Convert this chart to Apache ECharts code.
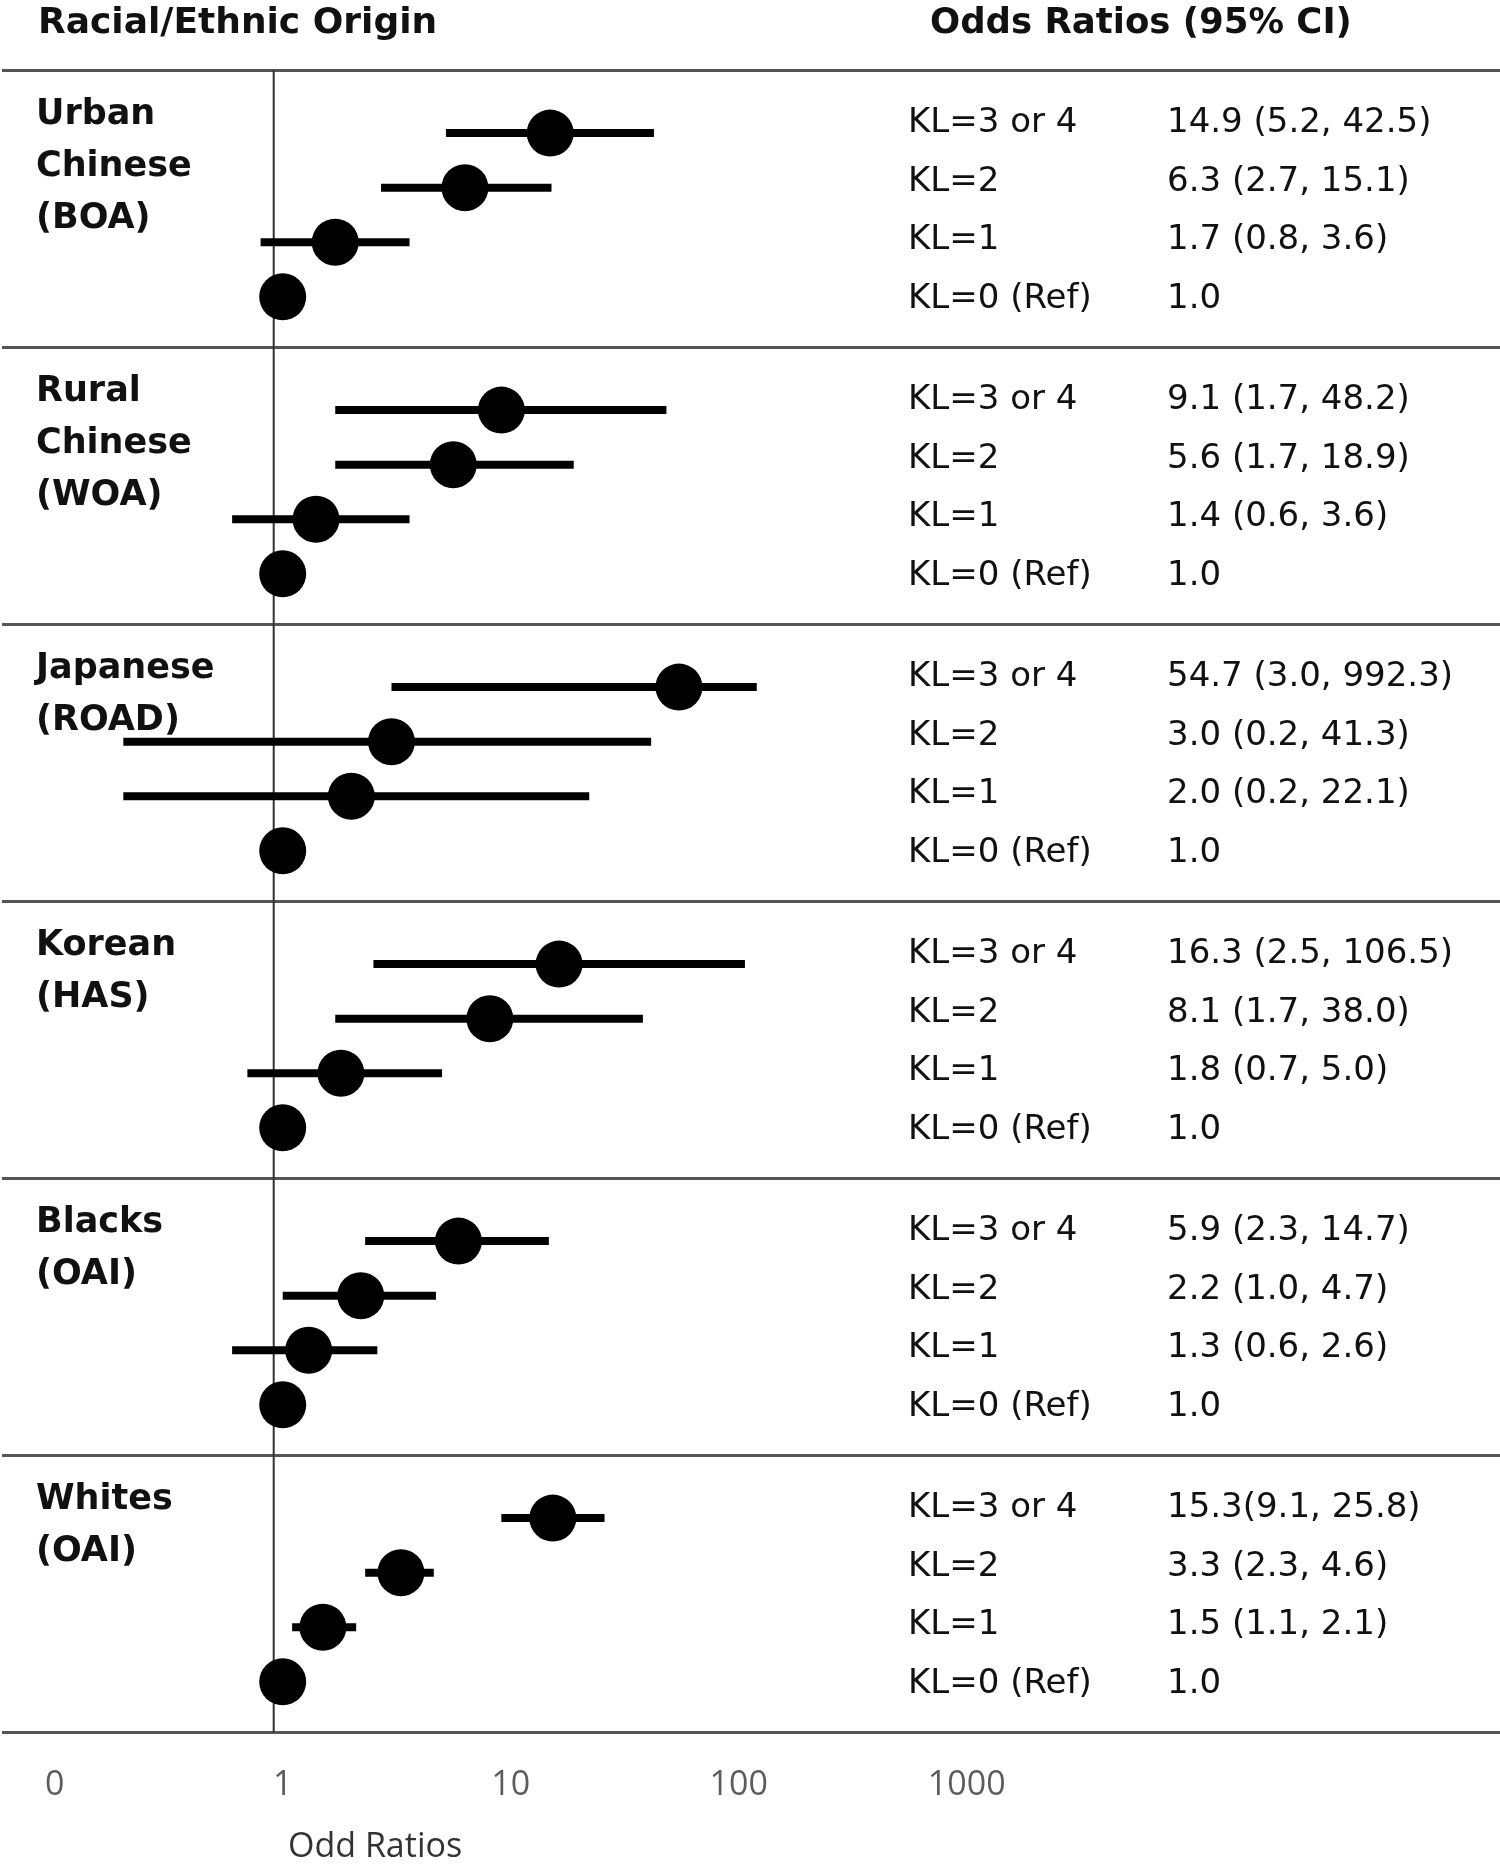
<!DOCTYPE html>
<html>
<head>
<meta charset="utf-8">
<title>Odds ratios by KL grade</title>
<script src="https://cdn.jsdelivr.net/npm/echarts@6/dist/echarts.min.js"></script>
<style>
  html, body { margin: 0; padding: 0; background: #fff; }
  #chart { width: 1500px; height: 1865px; }
</style>
</head>
<body>
<div id="chart"></div>
<script>
// groups (one band each) and the KL rows inside each band
const groups = ['Urban\nChinese\n(BOA)', 'Rural\nChinese\n(WOA)', 'Japanese\n(ROAD)', 'Korean\n(HAS)', 'Blacks\n(OAI)', 'Whites\n(OAI)'];
const levels = ['KL=3 or 4', 'KL=2', 'KL=1', 'KL=0 (Ref)'];

// odds ratios and 95% CI, rows follow `levels`
const oddsRatios = [
    [14.9, 6.3, 1.7, 1.0],
    [9.1, 5.6, 1.4, 1.0],
    [54.7, 3.0, 2.0, 1.0],
    [16.3, 8.1, 1.8, 1.0],
    [5.9, 2.2, 1.3, 1.0],
    [15.3, 3.3, 1.5, 1.0]
];
const ciLow = [
    [5.2, 2.7, 0.8, null],
    [1.7, 1.7, 0.6, null],
    [3.0, 0.2, 0.2, null],
    [2.5, 1.7, 0.7, null],
    [2.3, 1.0, 0.6, null],
    [9.1, 2.3, 1.1, null]
];
const ciHigh = [
    [42.5, 15.1, 3.6, null],
    [48.2, 18.9, 3.6, null],
    [992.3, 41.3, 22.1, null],
    [106.5, 38.0, 5.0, null],
    [14.7, 4.7, 2.6, null],
    [25.8, 4.6, 2.1, null]
];
const ciText = [
    ['14.9 (5.2, 42.5)', '6.3 (2.7, 15.1)', '1.7 (0.8, 3.6)', '1.0'],
    ['9.1 (1.7, 48.2)', '5.6 (1.7, 18.9)', '1.4 (0.6, 3.6)', '1.0'],
    ['54.7 (3.0, 992.3)', '3.0 (0.2, 41.3)', '2.0 (0.2, 22.1)', '1.0'],
    ['16.3 (2.5, 106.5)', '8.1 (1.7, 38.0)', '1.8 (0.7, 5.0)', '1.0'],
    ['5.9 (2.3, 14.7)', '2.2 (1.0, 4.7)', '1.3 (0.6, 2.6)', '1.0'],
    ['15.3(9.1, 25.8)', '3.3 (2.3, 4.6)', '1.5 (1.1, 2.1)', '1.0']
];
// the figure cuts the longest whisker short at about this value
const whiskerCap = 120;

const tickValues = [0.1, 1, 10, 100, 1000];
const tickLabels = ['0', '1', '10', '100', '1000'];

// layout (pixels)
const W = 1500, H = 1865;
const TOP = 70.5;          // first rule
const BAND_PX = 277;       // height of one group band
const UNIT_PX = BAND_PX / 5;
const X_ONE = 282.7;       // where OR = 1 sits
const DECADE_PX = 228;

const yPx = u => TOP + u * UNIT_PX;
const dotRow = (b, k) => b * 5 + 1.13 + 0.985 * k;

const chartDom = document.getElementById('chart');
const myChart = echarts.init(chartDom, null, { renderer: 'canvas' });

const whiskers = [];
const dots = [];
groups.forEach((g, b) => {
    levels.forEach((lv, k) => {
        const y = dotRow(b, k);
        dots.push([oddsRatios[b][k], y]);
        if (ciLow[b][k] != null) {
            whiskers.push([ciLow[b][k], Math.min(ciHigh[b][k], whiskerCap), y]);
        }
    });
});

const tickRow = (1785 - TOP) / UNIT_PX;
const tickData = tickValues.map(v => [v, tickRow]);

// texts and rules
const graphic = [];
const ruleStyle = { stroke: '#555', lineWidth: 3 };
for (let b = 0; b <= groups.length; b++) {
    graphic.push({
        type: 'line', silent: true,
        shape: { x1: 2, y1: TOP + b * BAND_PX, x2: W, y2: TOP + b * BAND_PX },
        style: ruleStyle
    });
}
graphic.push({
    type: 'line', silent: true,
    shape: { x1: X_ONE - 9, y1: TOP, x2: X_ONE - 9, y2: TOP + groups.length * BAND_PX },
    style: { stroke: '#333', lineWidth: 2 }
});
graphic.push({
    type: 'text', x: 38, y: 24,
    style: { text: 'Racial/Ethnic Origin', font: 'bold 36px "DejaVu Sans"', fill: '#111', verticalAlign: 'middle' }
});
graphic.push({
    type: 'text', x: 930, y: 24,
    style: { text: 'Odds Ratios (95% CI)', font: 'bold 35.5px "DejaVu Sans"', fill: '#111', verticalAlign: 'middle' }
});
groups.forEach((g, b) => {
    const bandTop = TOP + b * BAND_PX;
    graphic.push({
        type: 'text', x: 36, y: bandTop + 44 - 26,
        style: { text: g, font: 'bold 35px "DejaVu Sans"', fill: '#111', lineHeight: 52, verticalAlign: 'top' }
    });
    levels.forEach((lv, k) => {
        const ty = yPx(b * 5 + 0.95 + 1.06 * k);
        graphic.push({
            type: 'text', x: 908, y: ty,
            style: { text: lv, font: '34px "DejaVu Sans"', fill: '#111', verticalAlign: 'middle' }
        });
        graphic.push({
            type: 'text', x: 1167, y: ty,
            style: { text: ciText[b][k], font: '34px "DejaVu Sans"', fill: '#111', verticalAlign: 'middle' }
        });
    });
});
graphic.push({
    type: 'text', x: 288, y: 1847,
    style: { text: 'Odd Ratios', font: '34px "Open Sans"', fill: '#333', verticalAlign: 'middle' }
});

const option = {
    backgroundColor: '#fff',
    animation: false,
    grid: { left: 0, right: 0, top: 0, bottom: 0, containLabel: false },
    xAxis: {
        type: 'log',
        logBase: 10,
        min: Math.pow(10, -X_ONE / DECADE_PX),
        max: Math.pow(10, (W - X_ONE) / DECADE_PX),
        axisLine: { show: false },
        axisTick: { show: false },
        axisLabel: { show: false },
        splitLine: { show: false }
    },
    yAxis: {
        type: 'value',
        inverse: true,
        min: -TOP / UNIT_PX,
        max: (H - TOP) / UNIT_PX,
        axisLine: { show: false },
        axisTick: { show: false },
        axisLabel: { show: false },
        splitLine: { show: false }
    },
    series: [
        {
            name: 'CI',
            type: 'custom',
            data: whiskers,
            encode: { x: [0, 1], y: 2 },
            renderItem: function (params, api) {
                const s = api.coord([api.value(0), api.value(2)]);
                const e = api.coord([api.value(1), api.value(2)]);
                return {
                    type: 'line',
                    shape: { x1: s[0], y1: s[1], x2: e[0], y2: e[1] },
                    style: { stroke: '#000', lineWidth: 8 }
                };
            },
            z: 2
        },
        {
            name: 'OR',
            type: 'scatter',
            data: dots,
            symbol: 'circle',
            symbolSize: 47,
            itemStyle: { color: '#000', opacity: 1 },
            z: 3
        },
        {
            name: 'ticks',
            type: 'scatter',
            data: tickData,
            symbolSize: 1,
            itemStyle: { color: 'rgba(0,0,0,0)' },
            label: {
                show: true,
                position: 'inside',
                formatter: p => tickLabels[p.dataIndex],
                fontFamily: 'Open Sans',
                fontSize: 34,
                color: '#333'
            },
            silent: true
        }
    ],
    graphic: graphic
};
myChart.setOption(option);
</script>
</body>
</html>
